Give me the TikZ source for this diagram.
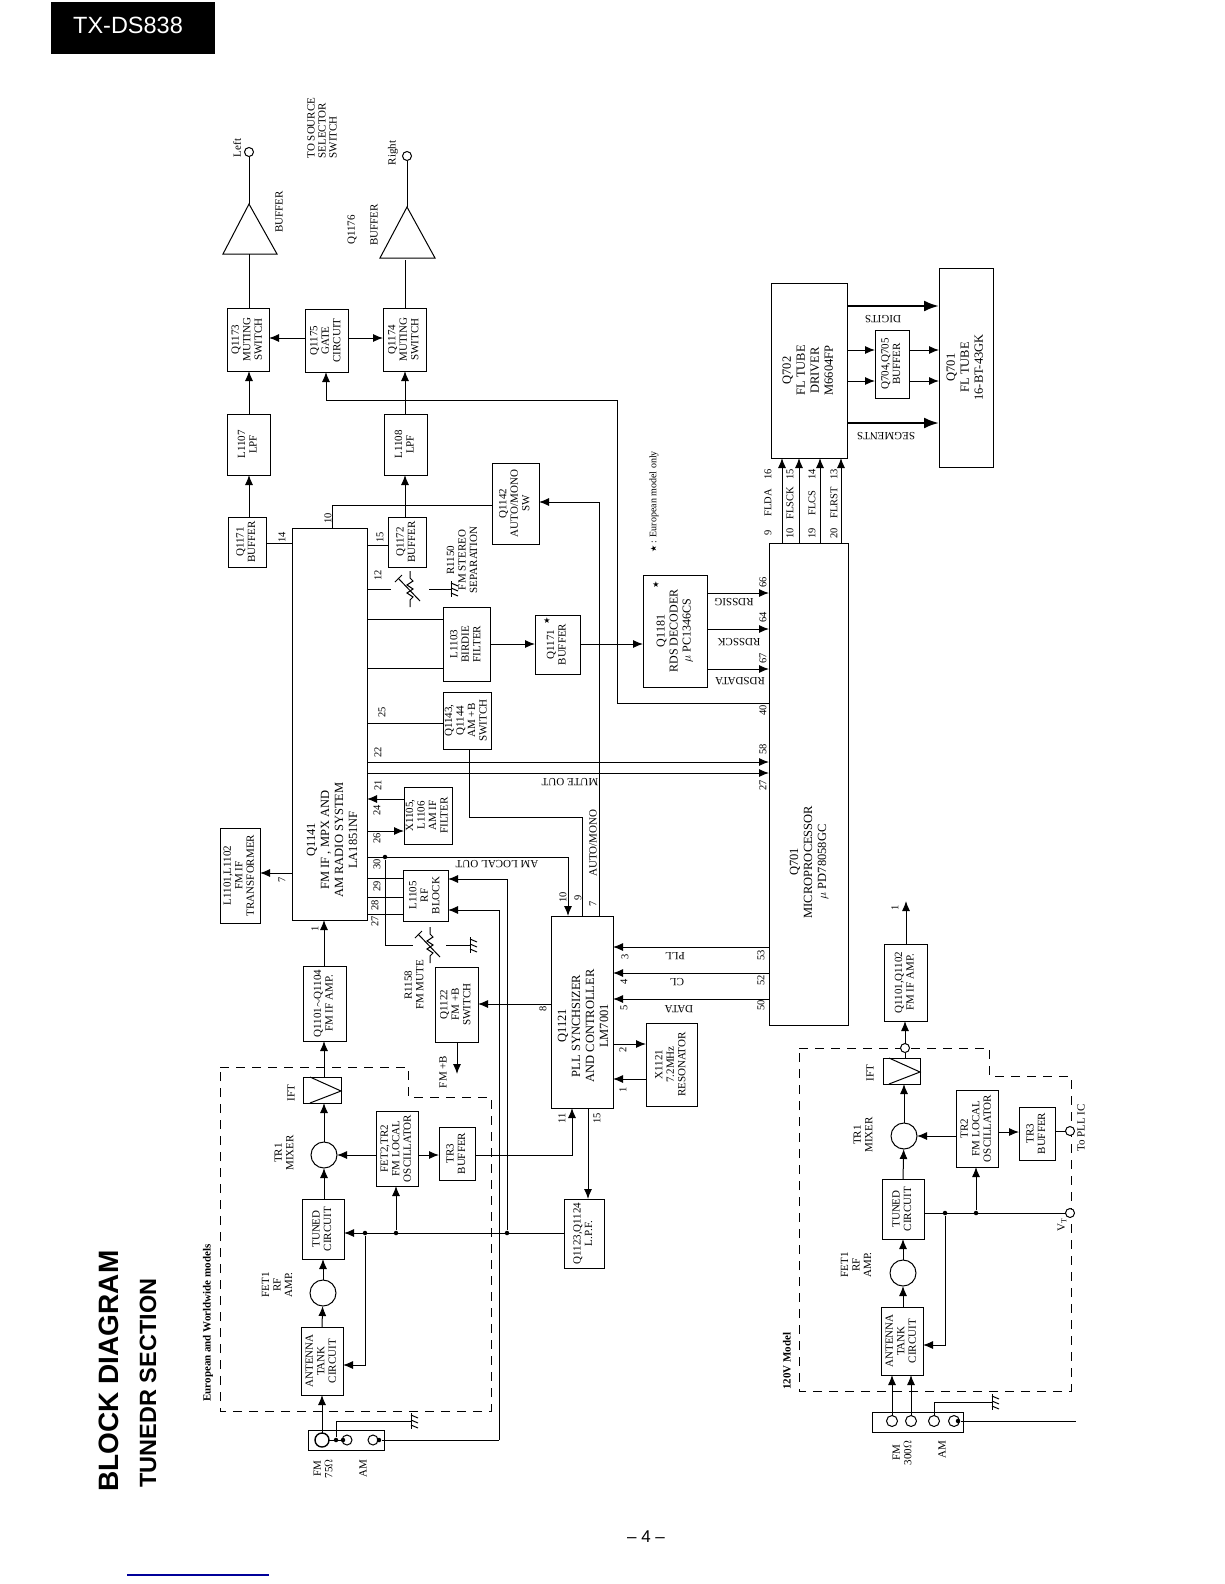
\documentclass[tikz,border=0pt]{standalone}
\usepackage{fontspec}
\setmainfont{Liberation Serif}
\setsansfont{Liberation Sans}
\newfontfamily\symfont{DejaVu Sans}
\usetikzlibrary{arrows.meta}
\newcommand{\vtext}[1]{\rotatebox{90}{\begin{tabular}{@{}c@{}}#1\end{tabular}}}
\tikzset{
  blk/.style 2 args={draw,inner sep=0pt,outer sep=0pt,minimum width=#1,minimum height=#2,font=\fontsize{11}{11.5}\selectfont},
  vlab/.style={rotate=90,align=center,inner sep=0pt,font=\fontsize{11}{11.5}\selectfont},
  flab/.style={rotate=180,inner sep=0pt,font=\fontsize{11}{11}\selectfont},
  pinno/.style={rotate=90,inner sep=0pt,font=\fontsize{10.5}{10.5}\selectfont},
  bigtxt/.style={rotate=90,align=center,inner sep=0pt,font=\fontsize{12.5}{14}\selectfont},
  amp/.style={circle,draw,inner sep=0pt,outer sep=0pt,minimum size=26},
  term/.style={circle,draw,fill=white,inner sep=0pt,outer sep=0pt,minimum size=9},
  jack/.style={circle,draw,inner sep=0pt,outer sep=0pt,minimum size=10},
  dot/.style={circle,fill,inner sep=0pt,minimum size=4.5},
  dashbox/.style={dashed,dash pattern=on 9pt off 7pt},
  thickbus/.style={line width=2.4pt,-{Latex[length=15pt,width=11pt]}},
  ground/.pic={\draw (0,-8)--(0,8);
    \foreach \t in {-6,-1,4} \draw (0,\t)--(7,\t+3);},
  rheostat/.pic={\draw (0,-18)--(0,-11)--(3,-8)--(-3,-4)--(3,0)--(-3,4)--(3,8)--(0,11)--(0,18);
    \draw (-12,-11)--(10,12);
    \draw (-15,-7)--(-8,-14);}
}
\begin{document}
\begin{tikzpicture}[x=1pt,y=-1pt,line width=1pt,>={Latex[length=10pt,width=8pt]}]
\useasboundingbox (0,0) rectangle (1224,1584);
% header and titles
\node[fill=black,text=white,minimum width=164,minimum height=52,inner sep=0pt,font=\sffamily\fontsize{23.5}{24}\selectfont] (model) at (133,28) {\raisebox{6pt}{TX-DS838\hspace{10pt}}};
\node[rotate=90,anchor=west,inner sep=0pt,font=\sffamily\bfseries\fontsize{28}{28}\selectfont] (title) at (108.5,1492) {BLOCK DIAGRAM};
\node[rotate=90,anchor=west,inner sep=0pt,font=\sffamily\bfseries\fontsize{23.5}{24}\selectfont] (section) at (148,1488) {TUNEDR SECTION};
\node[font=\sffamily\fontsize{17}{17}\selectfont] (pageno) at (646,1537) {-- 4 --};
\draw[blue!60!black,line width=1.2pt] (127,1575)--(269,1575);
% audio output side
\node[blk={42}{63}] (q1173) at (248,339.5) {\vtext{Q1173\\MUTING\\SWITCH}};
\node[blk={43}{63}] (q1175) at (326.5,340.5) {\vtext{Q1175\\GATE\\CIRCUIT}};
\node[blk={43}{63}] (q1174) at (404.5,339.5) {\vtext{Q1174\\MUTING\\SWITCH}};
\node[blk={43}{61}] (l1107) at (248.5,444.5) {\vtext{L1107\\LPF}};
\node[blk={43}{61}] (l1108) at (405.5,444.5) {\vtext{L1108\\LPF}};
\node[blk={38}{50}] (q1171) at (247,542) {\vtext{Q1171\\BUFFER}};
\node[blk={38}{50}] (q1172) at (407,542) {\vtext{Q1172\\BUFFER}};
\node[blk={47}{81}] (q1142) at (515.5,503.5) {\vtext{Q1142\\AUTO/MONO\\SW}};
\coordinate (leftbase) at (249,254);
\coordinate (lefttip) at (249,204);
\coordinate (rightbase) at (407,258);
\coordinate (righttip) at (407,207);
\draw (223,254)--(lefttip)--(277,254)--cycle;
\draw (380,258)--(righttip)--(435,258)--cycle;
\node[term] (left) at (249,152) {};
\node[term] (right) at (407,156) {};
\node[vlab] (leftlab) at (237,148) {Left};
\node[vlab] (rightlab) at (393,153) {Right};
\node[vlab] (buf1lab) at (279,212) {BUFFER};
\node[vlab] (q1176lab) at (352,230) {Q1176};
\node[vlab] (buf2lab) at (374,225) {BUFFER};
\node[vlab,align=left,font=\fontsize{11}{11}\selectfont] (srclab) at (322,128) {TO SOURCE\\SELECTOR\\SWITCH};
\draw[->] (q1171.north-|249,0)--(l1107.south-|249,0);
\draw[->] (l1107.north-|249,0)--(q1173.south-|249,0);
\draw (q1173.north-|249,0)--(leftbase);
\draw (lefttip)--(left);
\draw[->] (q1172.north-|405,0)--(l1108.south-|405,0);
\draw[->] (l1108.north-|405,0)--(q1174.south-|405,0);
\draw (q1174.north-|405,0)--(405,260);
\draw (righttip)--(right);
\draw[->] (q1175.west|-0,338)--(q1173.east|-0,338);
\draw[->] (q1175.east|-0,338)--(q1174.west|-0,338);
% Q1141 and what hangs on it
\node[blk={75}{392}] (q1141) at (329.5,724) {};
\node[bigtxt] (q1141txt) at (332,840) {Q1141\\FM IF , MPX AND\\AM RADIO SYSTEM\\LA1851NF};
\node[blk={47}{74}] (l1103) at (466.5,644) {\vtext{L1103\\BIRDIE\\FILTER}};
\node[blk={48}{57}] (q1143) at (467,720.5) {\vtext{Q1143,\\Q1144\\AM +B\\SWITCH}};
\node[blk={48}{57}] (x1105) at (428,815.5) {\vtext{X1105,\\L1106\\AM IF\\FILTER}};
\node[blk={45}{51}] (l1105) at (425.5,895.5) {\vtext{L1105\\RF\\BLOCK}};
\node[blk={40}{95}] (l1101) at (240,875.5) {\vtext{L1101,L1102\\FM IF\\TRANSFORMER}};
\node[blk={45}{59}] (q1171b) at (557.5,644.5) {\vtext{Q1171\\BUFFER}};
\node[font=\symfont\fontsize{8}{8}\selectfont,inner sep=0pt] (star1) at (547,621) {★};
\node[blk={64}{112},font=\fontsize{12}{13}\selectfont] (q1181) at (675,631) {\vtext{Q1181\\RDS DECODER\\$\mu$ PC1346CS}};
\node[font=\symfont\fontsize{8}{8}\selectfont,inner sep=0pt] (star2) at (656,585) {★};
\draw (q1171.east|-0,543)--(q1141.west|-0,543);
\draw (q1141.north-|332,0)--(332,505)--(q1142.west|-0,505);
\draw (q1141.east|-0,545)--(q1172.west|-0,545);
\coordinate (r1150l) at (391,589);
\coordinate (r1150r) at (429,589);
\draw (q1141.east|-0,589)--(r1150l);
\pic at (410,589) {rheostat};
\draw (r1150r)--(451,589);
\pic at (451,589) {ground};
\node[vlab] (r1150lab) at (462,560) {R1150\\FM STEREO\\SEPARATION};
\draw (q1141.east|-0,619)--(l1103.west|-0,619);
\draw (q1141.east|-0,668)--(l1103.west|-0,668);
\draw (q1141.east|-0,723)--(q1143.west|-0,723);
\draw[->] (q1141.east|-0,762)--(769,762);
\draw[->] (q1141.east|-0,773)--(769,773);
\draw[->] (x1105.west|-0,799)--(q1141.east|-0,799);
\draw[->] (q1141.east|-0,831)--(x1105.west|-0,831);
\draw (q1141.east|-0,878)--(l1105.west|-0,878);
\draw (q1141.east|-0,897)--(l1105.west|-0,897);
\draw (q1141.east|-0,914)--(l1105.west|-0,914);
\draw[->] (q1141.west|-0,873)--(l1101.east|-0,873);
\node[dot] (d30) at (385,857) {};
\draw (d30)--(385,945)--(413,945);
\pic at (430,945) {rheostat};
\draw (446,945)--(470,945);
\pic at (470,945) {ground};
\node[vlab] (r1158lab) at (414,985) {R1158\\FM MUTE};
\draw[->] (l1103.east|-0,644)--(q1171b.west|-0,644);
\draw[->] (q1171b.east|-0,644)--(q1181.west|-0,644);
% pin numbers
\foreach \n/\x/\y in {14/282/537,10/328/518,15/380/537,12/378/575,25/382/712,22/378/752,21/378/785,24/377/810,26/377/838,30/377/864,29/377/886,28/375/905,27/375/921}
  \node[pinno] (pin\n) at (\x,\y) {\n};
\node[pinno] (pin7) at (282,880) {7};
\node[pinno] (pin1) at (315,929) {1};
% PLL
\node[blk={62}{192}] (q1121) at (582,1012) {};
\node[bigtxt] (q1121txt) at (583,1026) {Q1121\\PLL SYNCHSIZER\\AND CONTROLLER\\LM7001};
\node[blk={51}{83}] (x1121) at (671.5,1064.5) {\vtext{X1121\\7.2MHz\\RESONATOR}};
\node[blk={40}{69}] (q1123) at (584,1233.5) {\vtext{Q1123,Q1124\\L.P.F.}};
\node[blk={43}{75}] (q1122) at (456.5,1004.5) {\vtext{Q1122\\FM +B\\SWITCH}};
\draw[->] (q1141.east|-0,857)--(568,857)--(q1121.north-|568,0);
\draw[->] (q1121.north-|599,0)--(599,502)--(q1142.east|-0,502);
\draw (q1143.south-|469,0)--(469,817)--(582,817)--(q1121.north-|582,0);
\draw[->] (q1121.west|-0,1004)--(q1122.east|-0,1004);
\draw[->] (q1122.south-|457,0)--(457,1074);
\node[vlab] (fmblab) at (443,1072) {FM +B};
\draw[->] (q1121.east|-0,1044)--(x1121.west|-0,1044);
\draw[->] (x1121.west|-0,1079)--(q1121.east|-0,1079);
\draw[->] (q1121.south-|588,0)--(q1123.north-|588,0);
\node[flab] (amlocal) at (497,864) {AM LOCAL OUT};
\node[flab] (muteout) at (570,782) {MUTE OUT};
\node[vlab] (automono) at (593,843) {AUTO/MONO};
% Q701 and tube
\node[blk={79}{482}] (q701) at (808.5,784) {};
\node[bigtxt] (q701txt) at (809,862) {Q701\\MICROPROCESSOR\\$\mu$ PD78058GC};
\node[blk={76}{175},font=\fontsize{12.5}{14}\selectfont] (q702) at (809,370.5) {\vtext{Q702\\FL TUBE\\DRIVER\\M6604FP}};
\node[blk={34}{68}] (q704) at (892,364) {\vtext{Q704,Q705\\BUFFER}};
\node[blk={54}{199},font=\fontsize{12.5}{14}\selectfont] (fl) at (966,367.5) {\vtext{Q701\\FL TUBE\\16-BT-43GK}};
\draw[thickbus] (q702.east|-0,306)--(fl.west|-0,306);
\draw[thickbus] (q702.east|-0,423)--(fl.west|-0,423);
\foreach \y in {350,381} {
  \draw[->] (q702.east|-0,\y)--(q704.west|-0,\y);
  \draw[->] (q704.east|-0,\y)--(fl.west|-0,\y);
}
\foreach \x in {782,799,820,841} \draw[->] (q701.north-|\x,0)--(q702.south-|\x,0);
\node[flab] (digits) at (883,319) {DIGITS};
\node[flab] (segments) at (886,436) {SEGMENTS};
\foreach \x/\a/\b/\c in {768/9/FLDA/16,790/10/FLSCK/15,812/19/FLCS/14,834/20/FLRST/13} {
  \node[pinno] (fl\a) at (\x,533) {\a};
  \node[pinno] (fl\b) at (\x,503) {\b};
  \node[pinno] (fl\c) at (\x,474) {\c};
}
\foreach \y in {593,629,669} \draw[->] (q1181.east|-0,\y)--(q701.west|-0,\y);
\node[flab] (rdssig) at (734,602) {RDSSIG};
\node[flab] (rdssck) at (739,642) {RDSSCK};
\node[flab] (rdsdata) at (740,681) {RDSDATA};
\draw[->] (q701.west|-0,703)--(617,703)--(617,400)--(326,400)--(q1175.south-|326,0);
\foreach \y/\t in {947/PLL,973/CL,999/DATA} \draw[->] (q701.west|-0,\y)--(q1121.east|-0,\y);
\node[flab] (pll) at (675,956) {PLL};
\node[flab] (cl) at (677,982) {CL};
\node[flab] (data) at (679,1009) {DATA};
\foreach \n/\x/\y in {66/763/582,64/763/617,67/763/658,40/763/710,58/763/749,27/763/785,53/761/955,52/761/980,50/761/1005}
  \node[pinno] (mp\n) at (\x,\y) {\n};
\foreach \n/\x/\y in {10/563/897,9/578/898,7/593/904,8/543/1009,3/625/957,4/624/982,5/624/1008,2/623/1050,1/623/1090,11/562/1118,15/597/1118}
  \node[pinno] (pl\n) at (\x,\y) {\n};
\node[vlab,font=\fontsize{10}{10}\selectfont] (note) at (654,502) {{\symfont\fontsize{8}{8}\selectfont ★} : European model only};
% European and Worldwide front end
\draw[dashbox] (220,1067)--(408,1067)--(408,1097)--(491,1097)--(491,1411)--(220,1411)--cycle;
\node[vlab,font=\bfseries\fontsize{11}{11}\selectfont] (eurlab) at (208,1323) {European and Worldwide models};
\node[blk={43}{75}] (q1101) at (324.5,1003.5) {\vtext{Q1101$\sim$Q1104\\FM IF AMP.}};
\node[blk={38}{26}] (ift) at (322,1090) {};
\draw (310,1103)--(341,1091)--(310,1077);
\node[amp] (mix) at (324,1155) {};
\node[blk={42}{75}] (fet2) at (397,1148.5) {\vtext{FET2,TR2\\FM LOCAL\\OSCILLATOR}};
\node[blk={36}{53}] (tr3) at (457,1153.5) {\vtext{TR3\\BUFFER}};
\node[blk={42}{60}] (tuned) at (323,1229) {\vtext{TUNED\\CIRCUIT}};
\node[amp] (fet1) at (323,1293) {};
\node[blk={42}{68}] (ant) at (322,1361) {\vtext{ANTENNA\\TANK\\CIRCUIT}};
\node[blk={76}{20}] (termf) at (346,1440) {};
\node[vlab] (iftlab) at (291,1093) {IFT};
\node[vlab] (mixlab) at (284,1153) {TR1\\MIXER};
\node[vlab] (fet1lab) at (277,1285) {FET1\\RF\\AMP.};
\draw[->] (q1101.north-|324,0)--(q1141.south-|324,0);
\draw[->] (ift.north-|324,0)--(q1101.south-|324,0);
\draw[->] (mix)--(ift.south-|324,0);
\draw[->] (tuned.north-|324,0)--(mix);
\draw[->] (fet1)--(tuned.south-|323,0);
\draw[->] (ant.north-|322,0)--(fet1);
\draw[->] (fet2.west|-mix)--(mix);
\draw[->] (fet2.east|-0,1155)--(tr3.west|-0,1155);
\draw[->] (tr3.east|-0,1155)--(572,1155)--(q1121.south-|572,0);
\node[dot] (d365) at (365,1233) {};
\node[dot] (d396) at (396,1233) {};
\node[dot] (d507) at (507,1233) {};
\draw[->] (q1123.west|-0,1233)--(tuned.east|-0,1233);
\draw[->] (d396)--(fet2.south-|396,0);
\draw[->] (d365)--(365,1365)--(ant.east|-0,1365);
\draw[->] (d507)--(507,879)--(l1105.east|-0,879);
\node[jack,minimum size=14,line width=1.4pt] (fm75) at (322,1440) {};
\node[jack] (amg) at (347,1440) {};
\node[jack] (amh) at (373,1440) {};
\node[dot] (dg1) at (336,1440) {};
\node[dot] (dg2) at (343,1440) {};
\node[dot] (dam) at (379,1440) {};
\draw (fm75)--(amg);
\draw[->] (fm75)--(ant.south-|322,0);
\draw (dg1)--(336,1421)--(411,1421);
\pic at (411,1421) {ground};
\draw (dam)--(499,1440);
\draw[->] (499,1440)--(499,910)--(l1105.east|-0,910);
\node[vlab] (fm75lab) at (323,1469) {FM\\75$\Omega$};
\node[vlab] (amlab) at (363,1469) {AM};
% 120V front end
\draw[dashbox] (799,1048)--(989,1048)--(989,1076)--(1071,1076)--(1071,1391)--(799,1391)--cycle;
\node[vlab,font=\bfseries\fontsize{11}{11}\selectfont] (v120lab) at (787,1361) {120V Model};
\node[blk={43}{77}] (q1101b) at (905.5,982.5) {\vtext{Q1101,Q1102\\FM IF AMP.}};
\node[term] (ifout) at (905,1048) {};
\coordinate (one) at (906,901);
\node[pinno] (oneb) at (895,908) {1};
\node[blk={37}{26}] (iftb) at (901.5,1071) {};
\draw (889,1084)--(920,1072)--(889,1058);
\node[amp] (mixb) at (904,1136) {};
\node[blk={42}{77}] (tr2) at (977,1128.5) {\vtext{TR2\\FM LOCAL\\OSCILLATOR}};
\node[blk={36}{53}] (tr3b) at (1037,1133.5) {\vtext{TR3\\BUFFER}};
\node[blk={42}{60}] (tunedb) at (903,1209) {\vtext{TUNED\\CIRCUIT}};
\node[amp] (fet1b) at (903,1273) {};
\node[blk={42}{68}] (antb) at (902,1341) {\vtext{ANTENNA\\TANK\\CIRCUIT}};
\node[blk={91}{20}] (termb) at (917.5,1422) {};
\node[term] (pllic) at (1070,1131) {};
\node[term] (vt) at (1070,1213) {};
\node[vlab] (pllab) at (1081,1128) {To PLL IC};
\node[vlab] (vtlab) at (1062,1225) {V$_{\mathrm{T}}$};
\node[vlab] (iftblab) at (870,1073) {IFT};
\node[vlab] (mixblab) at (863,1135) {TR1\\MIXER};
\node[vlab] (fet1blab) at (856,1265) {FET1\\RF\\AMP.};
\draw[->] (q1101b.north-|906,0)--(one);
\draw[->] (ifout)--(q1101b.south-|905,0);
\draw (iftb.north-|905,0)--(ifout);
\draw[->] (mixb)--(iftb.south-|904,0);
\draw[->] (tunedb.north-|903,0)--(mixb);
\draw[->] (fet1b)--(tunedb.south-|903,0);
\draw[->] (antb.north-|903,0)--(fet1b);
\draw[->] (tr2.west|-mixb)--(mixb);
\draw[->] (tr2.east|-0,1132)--(tr3b.west|-0,1132);
\draw (tr3b.east|-pllic)--(pllic);
\node[dot] (d945) at (945,1213) {};
\node[dot] (d976) at (976,1213) {};
\draw (tunedb.east|-vt)--(vt);
\draw[->] (d976)--(tr2.south-|976,0);
\draw[->] (d945)--(945,1345)--(antb.east|-0,1345);
\node[jack,minimum size=11] (fm1) at (892,1421) {};
\node[jack,minimum size=11] (fm2) at (911,1421) {};
\node[jack,minimum size=11] (am1) at (934,1421) {};
\node[jack,minimum size=11] (am2) at (954,1421) {};
\node[dot] (dam2) at (958,1421) {};
\draw[->] (fm1)--(antb.south-|892,0);
\draw[->] (fm2)--(antb.south-|911,0);
\draw (am1)--(934,1402)--(992,1402);
\pic at (992,1402) {ground};
\draw (dam2)--(1076,1421);
\node[vlab] (fm300lab) at (902,1453) {FM\\300$\Omega$};
\node[vlab] (am2lab) at (942,1450) {AM};
\end{tikzpicture}
\end{document}
